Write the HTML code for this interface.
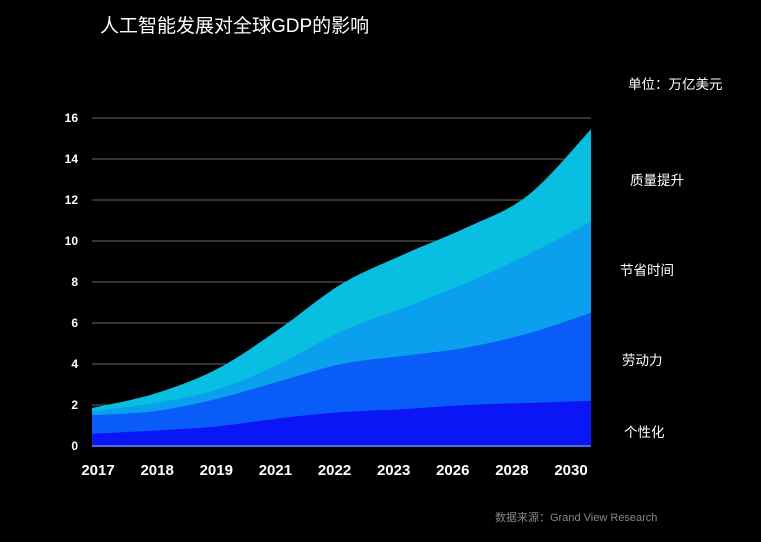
<!DOCTYPE html>
<html><head><meta charset="utf-8">
<style>
body{margin:0;background:#000;width:761px;height:542px;overflow:hidden;font-family:"Liberation Sans","Noto Sans CJK SC",sans-serif;}
svg{display:block}
</style></head>
<body>
<svg id="chart" width="761" height="542">
<text x="100" y="32" fill="#fff" font-size="19" font-family="Liberation Sans, Noto Sans CJK SC, sans-serif">人工智能发展对全球GDP的影响</text>
<text x="628" y="89" fill="#fff" font-size="13.5" font-family="Liberation Sans, Noto Sans CJK SC, sans-serif">单位：万亿美元</text>
<text x="495" y="521" fill="#888" font-size="11" font-family="Liberation Sans, Noto Sans CJK SC, sans-serif">数据来源：Grand View Research</text>
<g id="grid"></g><g id="areas"></g><g id="axes"></g><g id="legend"></g>
</svg>
<script>
const years = ["2017","2018","2019","2021","2022","2023","2026","2028","2030"];
const personalization = [0.6,0.75,0.95,1.35,1.65,1.8,2.0,2.1,2.2];
const labor = [0.9,0.95,1.35,1.8,2.35,2.6,2.8,3.4,4.3];
const timeSaving = [0.2,0.4,0.45,0.85,1.6,2.35,3.15,3.85,4.45];
const quality = [0.15,0.45,1.0,1.7,2.3,2.6,2.7,2.9,4.5];
const yTicks = [0,2,4,6,8,10,12,14,16];
const seriesNames = ["个性化","劳动力","节省时间","质量提升"];
const colors = ["#0a16f6","#0a5cf8","#0aa0ee","#08bfe2"];
const legendY = [437,365,275,185];

const NS="http://www.w3.org/2000/svg";
const x0=92,x1=591,yBase=446,yTop=118;
const xs=i=>x0+i*(x1-x0)/(years.length-1);
const xl=i=>98+i*(571-98)/(years.length-1);
const ys=v=>yBase-(v/16)*(yBase-yTop);
function mk(tag,attrs,parent){const e=document.createElementNS(NS,tag);for(const k in attrs)e.setAttribute(k,attrs[k]);parent.appendChild(e);return e;}
const grid=document.getElementById('grid'),axes=document.getElementById('axes'),areas=document.getElementById('areas'),legend=document.getElementById('legend');
yTicks.forEach(t=>{
  if(t>0){const l=mk('line',{x1:x0,x2:x1,y1:ys(t),y2:ys(t),stroke:'#666','stroke-width':1},grid);
  
  }
  const tx=mk('text',{x:78,y:ys(t)+4,fill:'#fff','font-size':12,'font-weight':'bold','text-anchor':'end'},axes);
  tx.textContent=t;
  
  
});
years.forEach((y,i)=>{
  const t=mk('text',{x:xl(i),y:475,fill:'#fff','font-size':15,'font-weight':'bold','text-anchor':'middle'},axes);
  t.textContent=y;
  
  
});
const layers=[personalization,labor,timeSaving,quality];
const cum=[];let run=years.map(()=>0);
layers.forEach(l=>{run=run.map((v,i)=>v+l[i]);cum.push(run.slice());});
function curve(pts){let d='';for(let i=0;i<pts.length-1;i++){const p0=pts[i-1]||pts[i],p1=pts[i],p2=pts[i+1],p3=pts[i+2]||p2;
 const c1=[p1[0]+(p2[0]-p0[0])/6,p1[1]+(p2[1]-p0[1])/6],c2=[p2[0]-(p3[0]-p1[0])/6,p2[1]-(p3[1]-p1[1])/6];
 d+=` C${c1[0]},${c1[1]} ${c2[0]},${c2[1]} ${p2[0]},${p2[1]}`;}return d;}
for(let k=cum.length-1;k>=0;k--){
  const pts=cum[k].map((v,i)=>[xs(i),ys(v)]);
  const d=`M${x0},${yBase} L${pts[0][0]},${pts[0][1]}`+curve(pts)+` L${x1},${yBase} Z`;
  const p=mk('path',{d:d,fill:colors[k]},areas);
  
  
}
const base=mk('line',{x1:x0,x2:x1,y1:yBase,y2:yBase,stroke:'#4a6ae0','stroke-width':2},axes);


seriesNames.forEach((n,i)=>{
  const t=mk('text',{x:[624,622,620,630][i],y:legendY[i],fill:'#fff','font-size':13.5},legend);
  t.textContent=n;
  
  
});
</script>
</body></html>
